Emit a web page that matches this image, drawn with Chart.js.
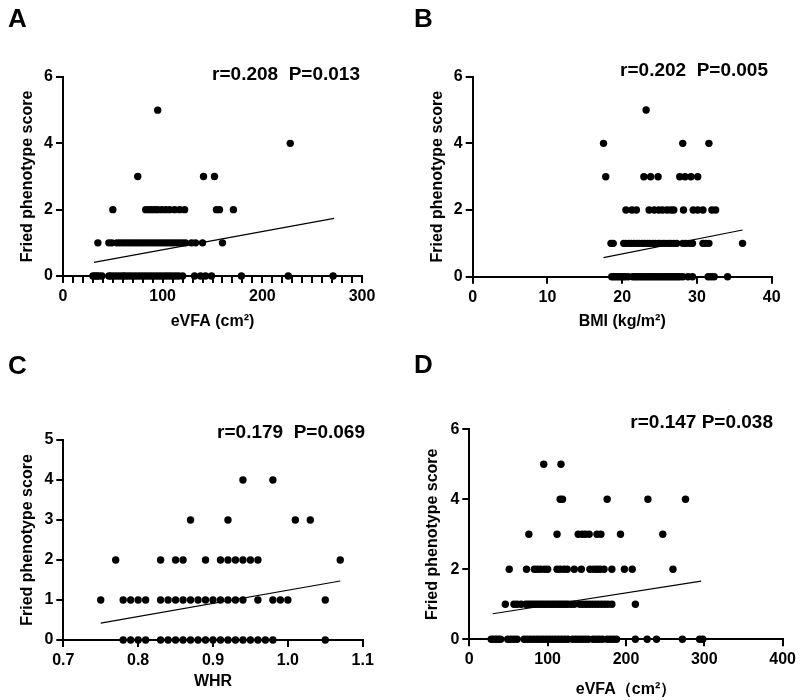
<!DOCTYPE html>
<html>
<head>
<meta charset="utf-8">
<script src="https://cdn.jsdelivr.net/npm/chart.js@4"></script>
<style>
  body { margin: 0; background: #fff; font-family: Arial, "Liberation Sans", sans-serif; }
  #wrap { position: relative; width: 800px; height: 700px; }
  .panel { position: absolute; width: 400px; height: 350px; }
  .letter { position: absolute; font-weight: bold; font-size: 26px; line-height: 1; }
  .stat { position: absolute; width: 230px; text-align: right; font-weight: bold; font-size: 19px; line-height: 1; white-space: pre; }
</style>
</head>
<body>
<div id="wrap">
  <div class="panel" style="left:0;top:0"><canvas id="chartA"></canvas></div>
  <div class="panel" style="left:400px;top:0"><canvas id="chartB"></canvas></div>
  <div class="panel" style="left:0;top:350px"><canvas id="chartC"></canvas></div>
  <div class="panel" style="left:400px;top:350px"><canvas id="chartD"></canvas></div>

  <div class="letter" style="left:8px;top:5px">A</div>
  <div class="letter" style="left:414px;top:5px">B</div>
  <div class="letter" style="left:8px;top:352px">C</div>
  <div class="letter" style="left:414px;top:351px">D</div>

  <div class="stat" style="left:130px;top:64px">r=0.208  P=0.013</div>
  <div class="stat" style="left:538px;top:60px">r=0.202  P=0.005</div>
  <div class="stat" style="left:135px;top:422px">r=0.179  P=0.069</div>
  <div class="stat" style="left:543px;top:412px">r=0.147 P=0.038</div>
</div>

<script>
// A: eVFA vs Fried score (x values per score level)
const evfaA0 = [30, 32, 34, 36, 39, 46, 48, 51, 54, 57, 60, 62, 65, 68, 71, 74, 77, 80, 83, 86, 89, 92, 95, 98, 101, 104, 107, 110, 113, 116, 120, 132, 138, 143, 149, 179, 226, 271];
const evfaA1 = [35, 46, 49, 54, 57, 60, 63, 66, 69, 72, 75, 78, 81, 84, 87, 90, 93, 96, 99, 102, 105, 108, 111, 114, 117, 120, 123, 129, 133, 140, 160];
const evfaA2 = [50, 83, 86, 89, 92, 95, 99, 103, 107, 112, 117, 122, 154, 157, 171];
const evfaA3 = [75, 141, 152];
const evfaA4 = [228];
const evfaA5 = [95];
const trendAx = [31, 272];
const trendAy = [0.41, 1.74];

// B: BMI
const bmi0 = [18.6, 18.9, 19.2, 19.5, 19.8, 20.1, 20.4, 20.8, 21.4, 21.7, 22.0, 22.3, 22.6, 22.9, 23.2, 23.5, 23.8, 24.1, 24.4, 24.7, 25.0, 25.3, 25.6, 25.9, 26.2, 26.5, 26.8, 27.1, 27.4, 27.7, 28.1, 28.8, 29.4, 31.5, 31.9, 32.3, 34.1];
const bmi1 = [18.5, 18.8, 20.2, 20.5, 20.9, 21.2, 21.6, 22.0, 22.3, 22.7, 23.0, 23.4, 23.7, 24.1, 24.4, 24.8, 25.1, 25.5, 25.8, 26.2, 26.5, 26.9, 27.3, 28.1, 28.5, 29.0, 29.4, 30.8, 31.2, 31.6, 36.1];
const bmi2 = [20.5, 21.3, 21.9, 23.6, 24.3, 24.9, 25.4, 26.0, 26.5, 26.9, 28.2, 29.5, 30.1, 30.8, 32.0, 32.5];
const bmi3 = [17.8, 22.9, 23.8, 24.8, 27.7, 28.4, 29.2, 30.1];
const bmi4 = [17.5, 28.1, 31.6];
const bmi5 = [23.2];
const trendBx = [17.5, 36.1];
const trendBy = [0.57, 1.40];

// C: WHR
const whr0 = [0.78, 0.79, 0.80, 0.81, 0.83, 0.84, 0.85, 0.86, 0.87, 0.88, 0.89, 0.90, 0.91, 0.92, 0.93, 0.94, 0.95, 0.96, 0.97, 0.98, 1.05];
const whr1 = [0.75, 0.78, 0.79, 0.80, 0.81, 0.83, 0.84, 0.85, 0.86, 0.87, 0.88, 0.89, 0.90, 0.91, 0.92, 0.93, 0.94, 0.96, 0.98, 0.99, 1.00, 1.05];
const whr2 = [0.77, 0.83, 0.85, 0.86, 0.89, 0.91, 0.92, 0.93, 0.94, 0.95, 0.96, 1.07];
const whr3 = [0.87, 0.92, 1.01, 1.03];
const whr4 = [0.94, 0.98];
const trendCx = [0.75, 1.07];
const trendCy = [0.42, 1.475];

// D: eVFA (second cohort)
const evfaD0 = [28, 31, 34, 37, 40, 49, 53, 57, 61, 70, 74, 78, 82, 86, 90, 94, 98, 102, 106, 110, 114, 118, 122, 126, 132, 136, 140, 144, 148, 152, 158, 162, 166, 170, 176, 180, 184, 188, 212, 227, 239, 272, 294, 298];
const evfaD1 = [46, 57, 61, 66, 72, 75, 78, 81, 84, 87, 90, 93, 96, 99, 102, 105, 108, 111, 114, 117, 120, 123, 126, 130, 134, 141, 145, 149, 153, 157, 161, 165, 169, 173, 177, 182, 212];
const evfaD2 = [51, 73, 83, 87, 91, 96, 100, 112, 116, 121, 125, 134, 143, 154, 159, 163, 167, 172, 182, 198, 208, 260];
const evfaD3 = [76, 112, 139, 144, 148, 153, 163, 168, 193, 247];
const evfaD4 = [116, 119, 176, 228, 276];
const evfaD5 = [95, 117];
const trendDx = [30, 296];
const trendDy = [0.73, 1.66];

const FONT = 'Arial, "Liberation Sans", sans-serif';
const boldFont = { family: FONT, size: 16, weight: 'bold' };

function makePanel(id, rows, tx, ty, o) {
  const datasets = rows.map((xs, score) => ({
    data: xs.map(x => ({ x: x, y: score })),
    backgroundColor: '#000',
    borderWidth: 0,
    pointRadius: 3.7,
    clip: false
  }));
  // linear fit line
  datasets.push({
    data: tx.map((x, i) => ({ x: x, y: ty[i] })),
    showLine: true,
    borderColor: '#000',
    borderWidth: 1.2,
    pointRadius: 0,
    fill: false
  });

  new Chart(document.getElementById(id), {
    type: 'scatter',
    data: { datasets: datasets },
    options: {
      responsive: true,
      maintainAspectRatio: false,
      animation: false,
      layout: { padding: { left: 0, top: o.pt, right: o.pr, bottom: o.pb } },
      plugins: { legend: { display: false }, tooltip: { enabled: false } },
      scales: {
        x: {
          type: 'linear',
          min: o.xMin, max: o.xMax,
          border: { display: true, color: '#000', width: 2 },
          grid: { drawOnChartArea: false, drawTicks: true, tickLength: 7, color: '#000', lineWidth: 2 },
          ticks: {
            stepSize: o.xStep, autoSkip: false, maxRotation: 0, padding: 4,
            color: '#000', font: boldFont,
            callback: v => o.xLabel ? (o.xLabel(v) ? v : '') : (o.xFmt ? o.xFmt(v) : v)
          },
          title: { display: true, text: o.xTitle, color: '#000', font: boldFont, padding: { top: 0, bottom: 0 } },
          afterFit: s => { s.height = o.xh; }
        },
        y: {
          min: 0, max: o.yMax,
          border: { display: true, color: '#000', width: 2 },
          grid: { drawOnChartArea: false, drawTicks: true, tickLength: 7, color: '#000', lineWidth: 2 },
          ticks: { stepSize: o.yStep, padding: 3, color: '#000', font: boldFont },
          title: { display: true, text: 'Fried phenotype score', color: '#000', font: boldFont, padding: { top: o.yTitlePad, bottom: 0 } },
          afterFit: s => { s.width = o.yw; }
        }
      }
    }
  });
}

makePanel('chartA', [evfaA0, evfaA1, evfaA2, evfaA3, evfaA4, evfaA5], trendAx, trendAy, {
  xMin: 0, xMax: 300, xStep: 10, xLabel: v => v % 100 === 0, xTitle: 'eVFA (cm²)',
  yMax: 6, yStep: 2, yw: 63, xh: 55.6, pt: 77, pr: 38, pb: 18.4, yTitlePad: 18
});

makePanel('chartB', [bmi0, bmi1, bmi2, bmi3, bmi4, bmi5], trendBx, trendBy, {
  xMin: 0, xMax: 40, xStep: 10, xTitle: 'BMI (kg/m²)',
  yMax: 6, yStep: 2, yw: 72.7, xh: 54.9, pt: 76.7, pr: 28.3, pb: 18.4, yTitlePad: 28
});

makePanel('chartC', [whr0, whr1, whr2, whr3, whr4], trendCx, trendCy, {
  xMin: 0.7, xMax: 1.1, xStep: 0.1, xFmt: v => v.toFixed(1), xTitle: 'WHR',
  yMax: 5, yStep: 1, yw: 63.3, xh: 51.1, pt: 90, pr: 37.3, pb: 8.9, yTitlePad: 18
});

makePanel('chartD', [evfaD0, evfaD1, evfaD2, evfaD3, evfaD4, evfaD5], trendDx, trendDy, {
  xMin: 0, xMax: 400, xStep: 100, xTitle: 'eVFA（cm²）',
  yMax: 6, yStep: 2, yw: 69.3, xh: 60.3, pt: 79.3, pr: 15, pb: 0.4, yTitlePad: 23
});
</script>
</body>
</html>
